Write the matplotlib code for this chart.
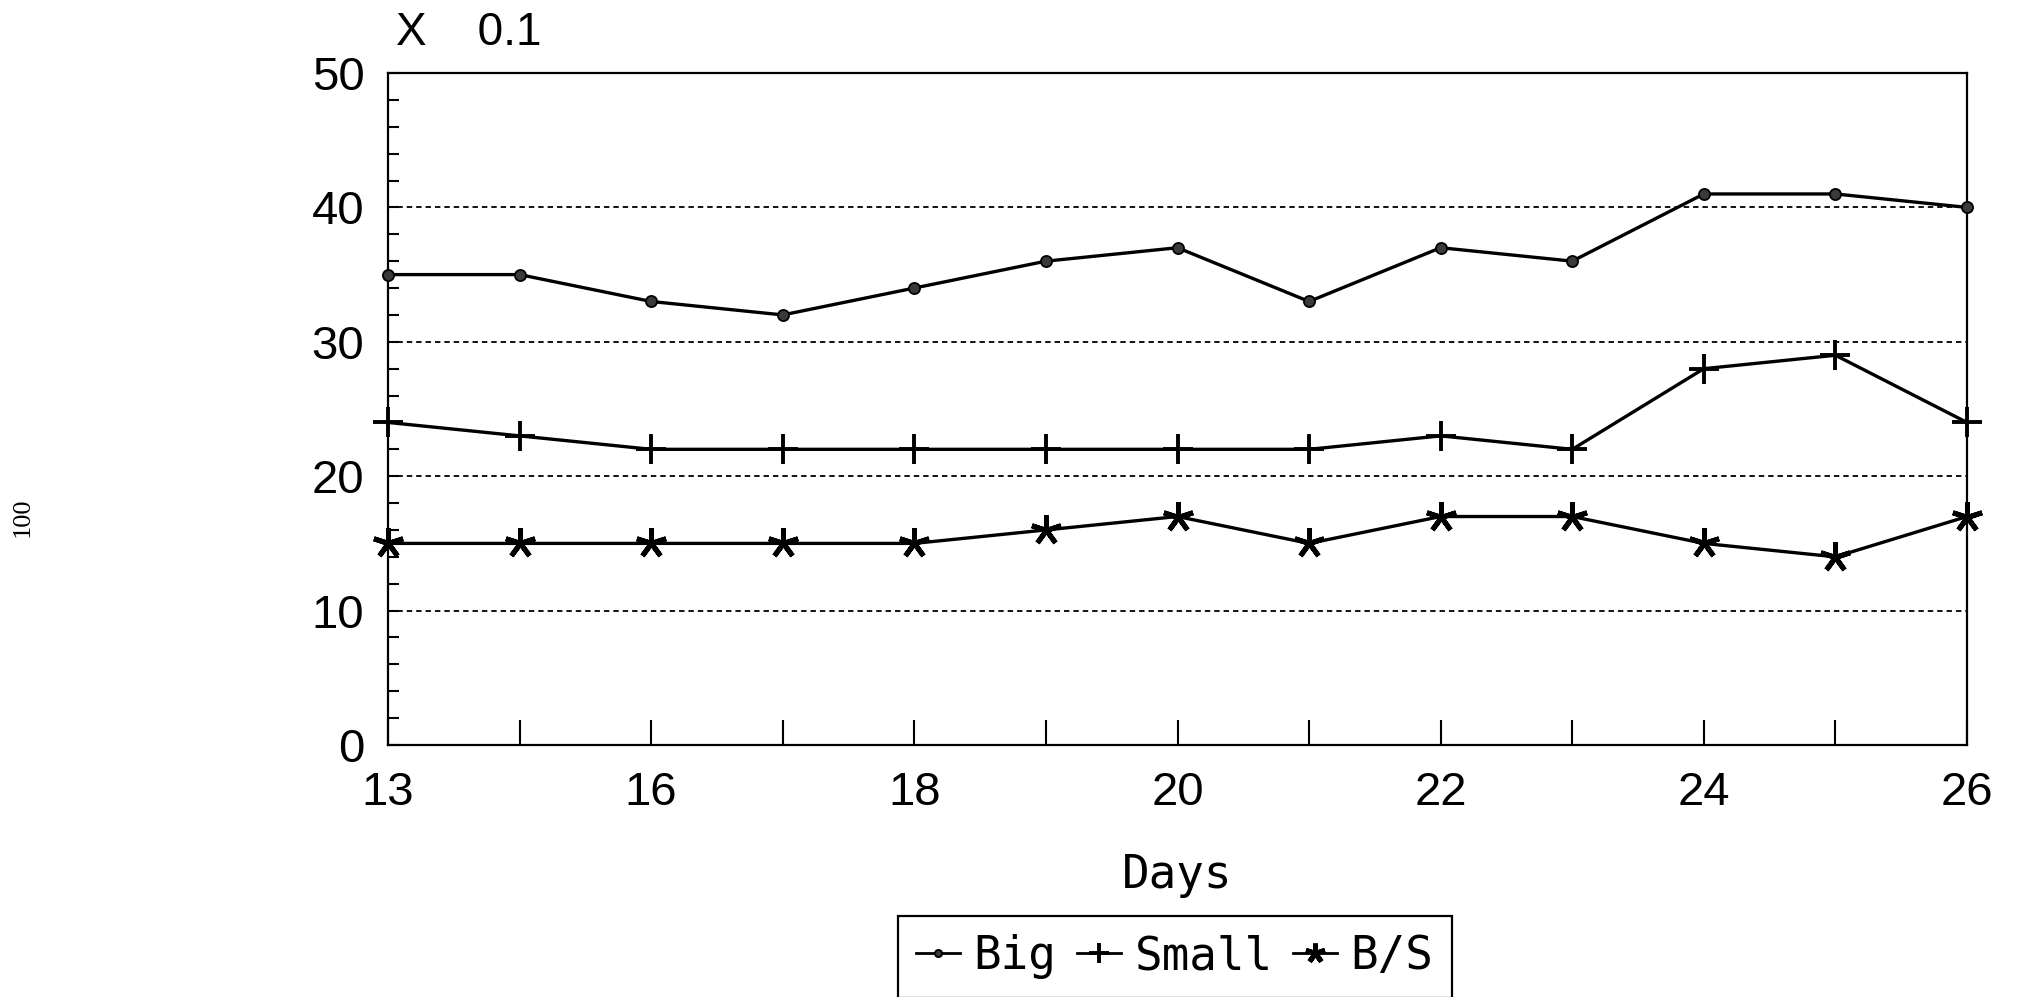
import matplotlib
matplotlib.use("Agg")
import matplotlib.pyplot as plt
from matplotlib.ticker import MultipleLocator, FixedLocator

# Sampling days (evenly spaced on the axis)
days = [13, 15, 16, 17, 18, 19, 20, 21, 22, 23, 24, 25, 26]
x_tick_labels = ["13", "", "16", "", "18", "", "20", "", "22", "", "24", "", "26"]

# Series values (axis scaled by 0.1)
big = [35, 35, 33, 32, 34, 36, 37, 33, 37, 36, 41, 41, 40]
small = [24, 23, 22, 22, 22, 22, 22, 22, 23, 22, 28, 29, 24]
ratio = [15, 15, 15, 15, 15, 16, 17, 15, 17, 17, 15, 14, 17]

series_names = ["Big", "Small", "B/S"]
y_ticks = [0, 10, 20, 30, 40, 50]

W, H = 2020, 997
fig = plt.figure(figsize=(W / 100, H / 100), dpi=100)
fig.patch.set_facecolor("white")

left, right, top, bottom = 388 / W, 1967 / W, 1 - 73 / H, 1 - 745 / H
ax = fig.add_axes([left, bottom, right - left, top - bottom])

xs = list(range(len(days)))
line_kw = dict(color="black", lw=2.4, clip_on=False, zorder=3)
ax.plot(xs, big, marker="o", ms=8, mfc="#3a3a3a", mec="black", mew=1.3,
        label=series_names[0], **line_kw)
ax.plot(xs, small, marker="+", ms=22, mew=2.8, label=series_names[1], **line_kw)
ax.plot(xs, ratio, marker=(5, 2, 0), ms=22, mew=3.6, label=series_names[2], **line_kw)

ax.set_xlim(0, len(days) - 1)
ax.set_ylim(0, 50)

# x axis: a tick at every day, labels on alternating days
ax.xaxis.set_major_locator(FixedLocator(xs))
ax.set_xticklabels(x_tick_labels)
ax.tick_params(axis="x", direction="in", length=18, width=1.5, pad=19,
               top=False, labelsize=34, labelfontfamily="Liberation Sans")

# y axis: majors every 10, minors every 2
ax.set_yticks(y_ticks)
ax.yaxis.set_minor_locator(MultipleLocator(2))
ax.tick_params(axis="y", which="major", direction="in", length=8, width=1.5,
               pad=17, right=False, labelsize=34, labelfontfamily="Liberation Sans")
ax.tick_params(axis="y", which="minor", direction="in", length=8, width=1.5, right=False)
ax.tick_params(axis="x", which="minor", bottom=False, top=False)

ax.yaxis.grid(True, which="major", color="black", linestyle=(0, (3, 2.2)), lw=1.3)
ax.set_axisbelow(True)

for sp in ax.spines.values():
    sp.set_linewidth(1.6)
    sp.set_color("black")

ax.set_xlabel("Days", fontsize=33, family="DejaVu Sans Mono", va="baseline")
ax.xaxis.set_label_coords(0.5, (745 - 888) / (745 - 73))

# scale factor note above the y axis
fig.text(396 / W, 1 - 45 / H, "X    0.1", fontsize=33, family="Liberation Sans",
         va="baseline", ha="left")

# side annotation
fig.text(23 / W, 1 - 517 / H, "100", fontsize=19, family="Liberation Serif",
         rotation=90, va="center", ha="center")

leg = fig.legend(loc="upper left", bbox_to_anchor=(898 / W, 1 - 916 / H), ncol=3,
                 frameon=True, fancybox=False, edgecolor="black", framealpha=1,
                 borderaxespad=0, handlelength=0.95, handletextpad=0.3,
                 columnspacing=0.45, borderpad=0.4,
                 prop={"family": "DejaVu Sans Mono", "size": 33})
leg.get_frame().set_linewidth(1.6)
for h in leg.legend_handles:
    h.set_markersize(h.get_markersize() * 0.65)
    h.set_linewidth(2.0)

fig.savefig("out.png", dpi=100)
